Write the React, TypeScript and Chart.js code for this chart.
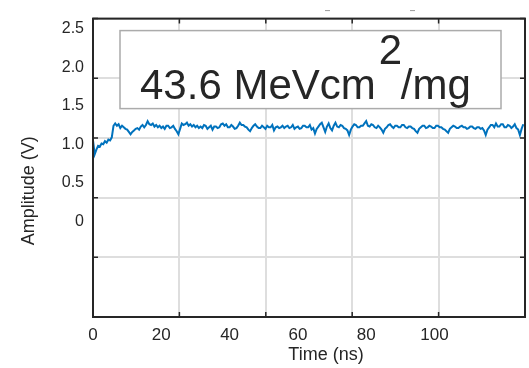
import React, { useEffect, useRef } from "react";
import { Chart, registerables } from "chart.js";

Chart.register(...registerables);

// ---- data ----
const SAMPLE_STEP_NS = 0.5;
const amplitudeV: number[] = [
  1.05, 0.87, 0.93, 0.98, 0.97, 1.01, 1.00, 1.04, 1.02, 1.06,
  1.05, 1.09, 1.24, 1.27, 1.24, 1.26, 1.21, 1.24, 1.22, 1.20,
  1.19, 1.16, 1.13, 1.16, 1.18, 1.20, 1.21, 1.19, 1.23, 1.25,
  1.22, 1.25, 1.30, 1.26, 1.25, 1.27, 1.23, 1.25, 1.22, 1.24,
  1.21, 1.23, 1.20, 1.24, 1.24, 1.21, 1.22, 1.24, 1.20, 1.17,
  1.13, 1.20, 1.27, 1.25, 1.26, 1.28, 1.24, 1.26, 1.23, 1.25,
  1.22, 1.24, 1.21, 1.23, 1.21, 1.25, 1.24, 1.20, 1.22, 1.24,
  1.19, 1.23, 1.23, 1.21, 1.22, 1.26, 1.27, 1.24, 1.26, 1.22,
  1.22, 1.25, 1.23, 1.20, 1.21, 1.24, 1.28, 1.25, 1.25, 1.23,
  1.22, 1.19, 1.17, 1.21, 1.24, 1.26, 1.23, 1.21, 1.21, 1.24,
  1.22, 1.20, 1.24, 1.22, 1.22, 1.25, 1.18, 1.22, 1.23, 1.21,
  1.22, 1.24, 1.21, 1.23, 1.24, 1.21, 1.22, 1.25, 1.20, 1.22,
  1.23, 1.20, 1.21, 1.24, 1.24, 1.22, 1.22, 1.25, 1.19, 1.21,
  1.14, 1.20, 1.23, 1.26, 1.28, 1.22, 1.16, 1.23, 1.27, 1.21,
  1.18, 1.24, 1.28, 1.23, 1.22, 1.25, 1.24, 1.21, 1.20, 1.18,
  1.12, 1.19, 1.23, 1.26, 1.25, 1.22, 1.22, 1.24, 1.24, 1.27,
  1.30, 1.24, 1.23, 1.26, 1.25, 1.22, 1.21, 1.24, 1.22, 1.19,
  1.15, 1.20, 1.22, 1.25, 1.26, 1.23, 1.21, 1.24, 1.24, 1.22,
  1.22, 1.25, 1.25, 1.22, 1.21, 1.23, 1.23, 1.21, 1.20, 1.17,
  1.15, 1.20, 1.22, 1.24, 1.24, 1.21, 1.22, 1.24, 1.23, 1.21,
  1.21, 1.24, 1.24, 1.22, 1.22, 1.20, 1.19, 1.17, 1.15, 1.20,
  1.22, 1.24, 1.23, 1.21, 1.21, 1.23, 1.24, 1.22, 1.22, 1.20,
  1.21, 1.23, 1.23, 1.21, 1.20, 1.22, 1.22, 1.20, 1.21, 1.18,
  1.12, 1.19, 1.22, 1.25, 1.25, 1.22, 1.27, 1.23, 1.23, 1.26,
  1.26, 1.22, 1.22, 1.25, 1.24, 1.21, 1.23, 1.26, 1.21, 1.19,
  1.12, 1.20, 1.26,
];
const timeNs: number[] = amplitudeV.map((_, i) => i * SAMPLE_STEP_NS);

const xTickLabels: number[] = [0, 20, 40, 60, 80, 100];
const yTickLabels: number[] = [0, 0.5, 1.0, 1.5, 2.0, 2.5];
const xRange: [number, number] = [0, 126.5];
const yRange: [number, number] = [-1.24, 2.63];
const gridDivisions = 5;

const annotationMain = "43.6 MeVcm";
const annotationSup = "2";
const annotationTail = "/mg";
const xTitle = "Time (ns)";
const yTitle = "Amplitude (V)";

const FONT = '"Liberation Sans", Arial, Helvetica, sans-serif';
const TEXT = "#262626";

const gridTicks = (min: number, max: number) => {
  const out: { value: number }[] = [];
  for (let i = 0; i <= gridDivisions; i++) out.push({ value: min + ((max - min) * i) / gridDivisions });
  return out;
};

const decorPlugin = {
  id: "decor",
  afterDatasetsDraw(chart: any) {
    const { ctx, chartArea: a } = chart;
    ctx.save();
    // annotation box
    const bx = a.left + 27, by = a.top + 12, bw = a.right - 24 - bx, bh = 78;
    ctx.fillStyle = "#ffffff";
    ctx.fillRect(bx, by, bw, bh);
    ctx.strokeStyle = "#ababab";
    ctx.lineWidth = 1.5;
    ctx.strokeRect(bx, by, bw, bh);
    ctx.fillStyle = TEXT;
    ctx.textBaseline = "alphabetic";
    ctx.textAlign = "left";
    ctx.font = `42px ${FONT}`;
    const tx = bx + 20, ty = by + 68;
    ctx.fillText(annotationMain, tx, ty);
    const w = ctx.measureText(annotationMain).width;
    ctx.fillText(annotationSup, tx + w + 3, ty - 35);
    ctx.fillText(annotationTail, tx + w + 25, ty);
    ctx.restore();
  },
  afterDraw(chart: any) {
    const { ctx, chartArea: a, scales } = chart;
    ctx.save();
    // frame
    ctx.strokeStyle = TEXT;
    ctx.lineWidth = 2;
    ctx.strokeRect(a.left, a.top, a.right - a.left, a.bottom - a.top);
    // inward ticks
    ctx.lineWidth = 1.5;
    ctx.beginPath();
    scales.x.ticks.forEach((t: any) => {
      const p = scales.x.getPixelForValue(t.value);
      ctx.moveTo(p, a.bottom); ctx.lineTo(p, a.bottom - 5);
      ctx.moveTo(p, a.top); ctx.lineTo(p, a.top + 5);
    });
    scales.y.ticks.forEach((t: any) => {
      const p = scales.y.getPixelForValue(t.value);
      ctx.moveTo(a.left, p); ctx.lineTo(a.left + 5, p);
      ctx.moveTo(a.right, p); ctx.lineTo(a.right - 5, p);
    });
    ctx.stroke();
    // tiny marks above the frame
    ctx.strokeStyle = "#9a9a9a";
    ctx.lineWidth = 1;
    ctx.beginPath();
    ctx.moveTo(a.left + 232, a.top - 8); ctx.lineTo(a.left + 237, a.top - 8);
    ctx.moveTo(a.left + 317, a.top - 8); ctx.lineTo(a.left + 322, a.top - 8);
    ctx.stroke();
    // axis titles
    ctx.fillStyle = TEXT;
    ctx.font = `18px ${FONT}`;
    ctx.textAlign = "center";
    ctx.textBaseline = "middle";
    ctx.fillText(xTitle, (a.left + a.right) / 2 + 17, a.bottom + 38);
    ctx.translate(a.left - 64, (a.top + a.bottom) / 2 + 23);
    ctx.rotate(-Math.PI / 2);
    ctx.fillText(yTitle, 0, 0);
    ctx.restore();
  },
};

export default function App() {
  const ref = useRef<HTMLCanvasElement>(null);
  useEffect(() => {
    document.body.style.margin = "0";
    if (!ref.current) return;
    const chart = new Chart(ref.current, {
      type: "line",
      data: {
        datasets: [
          {
            data: timeNs.map((t, i) => ({ x: t, y: amplitudeV[i] })),
            borderColor: "#0072BD",
            borderWidth: 2,
            pointRadius: 0,
            tension: 0,
          },
        ],
      },
      options: {
        animation: false,
        responsive: false,
        devicePixelRatio: 1,
        layout: { padding: { top: 15, right: 4, left: 0, bottom: 0 } },
        plugins: { legend: { display: false }, tooltip: { enabled: false } },
        scales: {
          x: {
            type: "linear",
            position: "bottom",
            min: xRange[0],
            max: xRange[1],
            ticks: { display: false },
            grid: { color: "#dedede", lineWidth: 2, drawTicks: false },
            border: { display: false },
            afterBuildTicks: (s: any) => { s.ticks = gridTicks(xRange[0], xRange[1]); },
            afterFit: (s: any) => { s.height = 0; },
          },
          xl: {
            type: "linear",
            position: "bottom",
            min: xRange[0],
            max: xRange[1],
            grid: { display: false, drawTicks: false },
            border: { display: false },
            ticks: {
              autoSkip: false,
              maxRotation: 0,
              padding: 8,
              color: TEXT,
              font: { family: FONT, size: 17 },
              callback: (v: any) => String(v),
            },
            afterBuildTicks: (s: any) => { s.ticks = xTickLabels.map((v) => ({ value: v })); },
            afterFit: (s: any) => { s.height = 51; },
          },
          y: {
            type: "linear",
            position: "left",
            min: yRange[0],
            max: yRange[1],
            ticks: { display: false },
            grid: { color: "#dedede", lineWidth: 2, drawTicks: false },
            border: { display: false },
            afterBuildTicks: (s: any) => { s.ticks = gridTicks(yRange[0], yRange[1]); },
            afterFit: (s: any) => { s.width = 0; },
          },
          yl: {
            type: "linear",
            position: "left",
            min: yRange[0],
            max: yRange[1],
            grid: { display: false, drawTicks: false },
            border: { display: false },
            ticks: {
              autoSkip: false,
              padding: 9,
              color: TEXT,
              font: { family: FONT, size: 16 },
              callback: (v: any) => (v === 0 ? "0" : Number(v).toFixed(1)),
            },
            afterBuildTicks: (s: any) => { s.ticks = yTickLabels.map((v) => ({ value: v })); },
            afterFit: (s: any) => { s.width = 93; },
          },
        },
      },
      plugins: [decorPlugin],
    } as any);
    return () => chart.destroy();
  }, []);
  return <canvas ref={ref} width={529} height={368} style={{ display: "block" }} />;
}
